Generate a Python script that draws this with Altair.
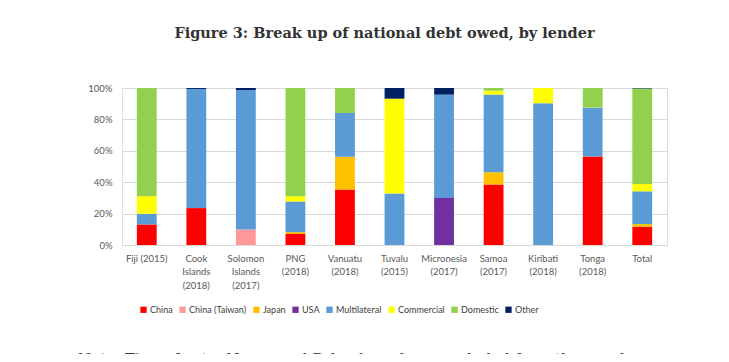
import altair as alt
import pandas as pd

categories = ["Fiji (2015)", "Cook|Islands|(2018)", "Solomon|Islands|(2017)", "PNG|(2018)",
              "Vanuatu|(2018)", "Tuvalu|(2015)", "Micronesia|(2017)", "Samoa|(2017)",
              "Kiribati|(2018)", "Tonga|(2018)", "Total"]
lenders = ["China", "China (Taiwan)", "Japan", "USA", "Multilateral", "Commercial", "Domestic", "Other"]
colors = ["#FF0000", "#FF9999", "#FFC000", "#7030A0", "#5B9BD5", "#FFFF00", "#92D050", "#002060"]

china        = [13.1, 23.5, 0.0, 7.0, 35.3, 0.0, 0.0, 38.5, 0.0, 56.4, 11.6]
china_taiwan = [0.0, 0.0, 9.9, 0.0, 0.0, 0.0, 0.0, 0.0, 0.0, 0.0, 0.0]
japan        = [0.0, 0.0, 0.0, 1.2, 20.9, 0.0, 0.0, 7.8, 0.0, 0.0, 1.7]
usa          = [0.0, 0.0, 0.0, 0.0, 0.0, 0.0, 30.0, 0.0, 0.0, 0.0, 0.0]
multilateral = [6.8, 75.9, 88.8, 19.5, 27.9, 32.8, 65.8, 49.5, 90.3, 31.1, 20.9]
commercial   = [11.2, 0.0, 0.0, 3.4, 0.0, 60.4, 0.0, 2.5, 9.7, 0.0, 4.7]
domestic     = [68.9, 0.0, 0.0, 68.9, 15.9, 0.0, 0.0, 1.7, 0.0, 12.5, 60.8]
other        = [0.0, 0.6, 1.3, 0.0, 0.0, 6.8, 4.2, 0.0, 0.0, 0.0, 0.3]

series = [china, china_taiwan, japan, usa, multilateral, commercial, domestic, other]

rows = []
for li, (name, vals) in enumerate(zip(lenders, series)):
    for c, v in zip(categories, vals):
        rows.append({"country": c, "lender": name, "value": v, "order": li})
df = pd.DataFrame(rows)

title_text = "Figure 3: Break up of national debt owed, by lender"
note_text = "Note: Timor-Leste, Nauru and Palau have been excluded from the graph as no"

bars = alt.Chart(df).mark_bar().encode(
    x=alt.X("country:N", sort=categories,
            scale=alt.Scale(paddingInner=0.6, paddingOuter=0.3),
            axis=alt.Axis(title=None, labelAngle=0, labelExpr="split(datum.label, '|')",
                          labelFont="Lato", labelFontSize=9.5, labelColor="#595959",
                          labelLineHeight=13.5, labelPadding=8, ticks=False, grid=False,
                          domainColor="#D9D9D9", labelBaseline="top")),
    y=alt.Y("value:Q", stack="normalize",
            scale=alt.Scale(domain=[0, 1]),
            axis=alt.Axis(title=None, format=".0%", values=[0, 0.2, 0.4, 0.6, 0.8, 1.0],
                          labelFont="Lato", labelFontSize=9.5, labelColor="#595959",
                          ticks=False, domain=False, gridColor="#D9D9D9", labelPadding=10)),
    color=alt.Color("lender:N", sort=lenders,
                    scale=alt.Scale(domain=lenders, range=colors),
                    legend=alt.Legend(title=None, orient="none", legendX=17, legendY=217,
                                      direction="horizontal", symbolType="square",
                                      symbolSize=40, symbolStrokeWidth=0,
                                      labelFont="Lato", labelFontSize=9, labelColor="#404040",
                                      columnPadding=5, labelOffset=2)),
    order=alt.Order("order:Q", sort="ascending"),
)

note = alt.Chart(pd.DataFrame({"t": [note_text]})).mark_text(
    font="DejaVu Serif", fontStyle="italic", fontSize=15, align="left", baseline="top",
    color="#404040"
).encode(text="t:N", x=alt.value(-45), y=alt.value(264))

chart = alt.layer(bars, note).properties(
    width=545, height=157,
    title=alt.TitleParams(title_text, font="DejaVu Serif", fontSize=14.5, fontWeight="bold",
                          color="#333333", anchor="middle", offset=42, dx=-10),
    autosize=alt.AutoSizeParams(type="none"),
    padding={"left": 114, "top": 80, "right": 54, "bottom": 109},
).configure_view(stroke="transparent").configure(background="white")

chart.save("out.html", embed_options={"renderer": "svg", "actions": False})
